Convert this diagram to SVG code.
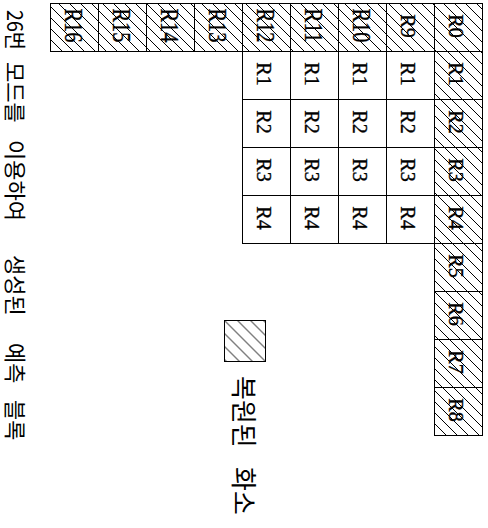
<svg xmlns="http://www.w3.org/2000/svg" width="488" height="528" viewBox="0 0 488 528">
<style>
.cell{stroke:#000;stroke-width:1;}
.h{fill:url(#hatch);}
.w{fill:#fff;}
.lbl{font-family:"Liberation Serif","Times New Roman",serif;font-size:20px;fill:#000;stroke:#000;stroke-width:0.35;text-anchor:middle;}
.lbl3{font-family:"Liberation Serif","Times New Roman",serif;font-size:26px;fill:#000;stroke:#000;stroke-width:0.35;text-anchor:middle;}
.kr{font-family:"Noto Sans CJK KR","Noto Sans",sans-serif;fill:#000;}
.hl{stroke:#000;stroke-width:1;fill:none;shape-rendering:crispEdges;}
</style>
<defs>
<pattern id="hatch" patternUnits="userSpaceOnUse" width="11" height="11">
<path class="hl" d="M-1,-1 L12,12 M-1,10 L1,12 M10,-1 L12,1"/>
</pattern>
<pattern id="hatch2" patternUnits="userSpaceOnUse" x="224.5" y="320.5" width="13" height="13">
<path class="hl" d="M-1,-1 L14,14 M-1,12 L1,14 M12,-1 L14,1"/>
</pattern>
</defs>
<rect width="488" height="528" fill="#fff"/>

<g id="top-row">
<rect class="cell h" x="50.5" y="3.5" width="48" height="48"/>
<rect class="cell h" x="98.5" y="3.5" width="48" height="48"/>
<rect class="cell h" x="146.5" y="3.5" width="48" height="48"/>
<rect class="cell h" x="194.5" y="3.5" width="48" height="48"/>
<rect class="cell h" x="242.5" y="3.5" width="48" height="48"/>
<rect class="cell h" x="290.5" y="3.5" width="48" height="48"/>
<rect class="cell h" x="338.5" y="3.5" width="48" height="48"/>
<rect class="cell h" x="386.5" y="3.5" width="48" height="48"/>
<rect class="cell h" x="434.5" y="3.5" width="48" height="48"/>
<text class="lbl3" textLength="34" lengthAdjust="spacingAndGlyphs" transform="translate(65,25.5) rotate(90)">R16</text>
<text class="lbl3" textLength="34" lengthAdjust="spacingAndGlyphs" transform="translate(113,25.5) rotate(90)">R15</text>
<text class="lbl3" textLength="34" lengthAdjust="spacingAndGlyphs" transform="translate(161,25.5) rotate(90)">R14</text>
<text class="lbl3" textLength="34" lengthAdjust="spacingAndGlyphs" transform="translate(209,25.5) rotate(90)">R13</text>
<text class="lbl3" textLength="34" lengthAdjust="spacingAndGlyphs" transform="translate(257,25.5) rotate(90)">R12</text>
<text class="lbl3" textLength="34" lengthAdjust="spacingAndGlyphs" transform="translate(305,25.5) rotate(90)">R11</text>
<text class="lbl3" textLength="34" lengthAdjust="spacingAndGlyphs" transform="translate(353,25.5) rotate(90)">R10</text>
<text class="lbl" transform="translate(401,26) rotate(90)">R9</text>
<text class="lbl" transform="translate(449,26) rotate(90)">R0</text>
</g>

<g id="right-column">
<rect class="cell h" x="434.5" y="51.5" width="48" height="48"/>
<rect class="cell h" x="434.5" y="99.5" width="48" height="48"/>
<rect class="cell h" x="434.5" y="147.5" width="48" height="48"/>
<rect class="cell h" x="434.5" y="195.5" width="48" height="48"/>
<rect class="cell h" x="434.5" y="243.5" width="48" height="48"/>
<rect class="cell h" x="434.5" y="291.5" width="48" height="48"/>
<rect class="cell h" x="434.5" y="339.5" width="48" height="48"/>
<rect class="cell h" x="434.5" y="387.5" width="48" height="48"/>
<text class="lbl" transform="translate(449,74) rotate(90)">R1</text>
<text class="lbl" transform="translate(449,122) rotate(90)">R2</text>
<text class="lbl" transform="translate(449,170) rotate(90)">R3</text>
<text class="lbl" transform="translate(449,218) rotate(90)">R4</text>
<text class="lbl" transform="translate(449,266) rotate(90)">R5</text>
<text class="lbl" transform="translate(449,314) rotate(90)">R6</text>
<text class="lbl" transform="translate(449,362) rotate(90)">R7</text>
<text class="lbl" transform="translate(449,410) rotate(90)">R8</text>
</g>

<g id="prediction-block">
<rect class="cell w" x="242.5" y="51.5" width="192" height="192"/>
<path class="cell" d="M290.5,51.5 V243.5 M338.5,51.5 V243.5 M386.5,51.5 V243.5 M242.5,99.5 H434.5 M242.5,147.5 H434.5 M242.5,195.5 H434.5" fill="none"/>
<text class="lbl" transform="translate(257,74) rotate(90)">R1</text>
<text class="lbl" transform="translate(257,122) rotate(90)">R2</text>
<text class="lbl" transform="translate(257,170) rotate(90)">R3</text>
<text class="lbl" transform="translate(257,218) rotate(90)">R4</text>
<text class="lbl" transform="translate(305,74) rotate(90)">R1</text>
<text class="lbl" transform="translate(305,122) rotate(90)">R2</text>
<text class="lbl" transform="translate(305,170) rotate(90)">R3</text>
<text class="lbl" transform="translate(305,218) rotate(90)">R4</text>
<text class="lbl" transform="translate(353,74) rotate(90)">R1</text>
<text class="lbl" transform="translate(353,122) rotate(90)">R2</text>
<text class="lbl" transform="translate(353,170) rotate(90)">R3</text>
<text class="lbl" transform="translate(353,218) rotate(90)">R4</text>
<text class="lbl" transform="translate(401,74) rotate(90)">R1</text>
<text class="lbl" transform="translate(401,122) rotate(90)">R2</text>
<text class="lbl" transform="translate(401,170) rotate(90)">R3</text>
<text class="lbl" transform="translate(401,218) rotate(90)">R4</text>
</g>

<g id="legend">
<rect class="cell" x="224.5" y="320.5" width="41" height="41" fill="url(#hatch2)"/>
<text class="kr" font-size="26" transform="translate(234,0) rotate(90)"><tspan x="376">복원된</tspan><tspan x="467">화소</tspan></text>
</g>

<g id="caption">
<text class="kr" font-size="22" transform="translate(7,0) rotate(90)"><tspan x="10" textLength="40" lengthAdjust="spacingAndGlyphs">26번</tspan><tspan x="62">모드를</tspan><tspan x="140">이용하여</tspan><tspan x="255">생성된</tspan><tspan x="343">예측</tspan><tspan x="400">블록</tspan></text>
</g>
</svg>
